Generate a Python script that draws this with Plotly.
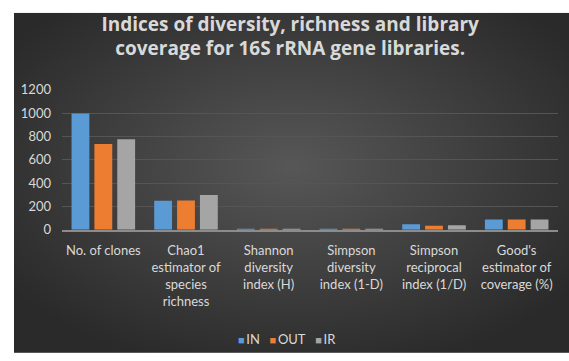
import numpy as np
import plotly.graph_objects as go

categories = [
    "No. of clones",
    "Chao1<br>estimator of<br>species<br>richness",
    "Shannon<br>diversity<br>index (H)",
    "Simpson<br>diversity<br>index (1-D)",
    "Simpson<br>reciprocal<br>index (1/D)",
    "Good's<br>estimator of<br>coverage (%)",
]
series_names = ["IN", "OUT", "IR"]
values_in = [996, 248, 3.6, 0.93, 46, 87]
values_out = [735, 250, 3.4, 0.91, 33, 88]
values_ir = [775, 297, 3.5, 0.92, 38, 88]
colors = ["#5b9bd5", "#ed7d31", "#a5a5a5"]
y_ticks = [0, 200, 400, 600, 800, 1000, 1200]

W, H = 569, 361
TXT = "#d9d9d9"
FONT = "Lato"

fig = go.Figure()

# Decorative radial background gradient (not chart data)
gx = np.linspace(0, 1, 60)
gy = np.linspace(0, 1, 40)
GX, GY = np.meshgrid(gx, gy)
r = np.sqrt(((GX - 0.5) / 0.62) ** 2 + ((GY - 0.55) / 0.62) ** 2)
gz = np.clip(1 - r, 0, 1)
fig.add_trace(go.Heatmap(
    x=gx, y=gy, z=gz, zsmooth="best", showscale=False, hoverinfo="skip",
    colorscale=[[0, "#2a2a2a"], [1, "#575757"]], zmin=0, zmax=1,
    xaxis="x", yaxis="y", showlegend=False,
))

for name, vals, col in zip(series_names, [values_in, values_out, values_ir], colors):
    fig.add_trace(go.Bar(
        x=categories, y=vals, name=name, marker=dict(color=col, line=dict(width=0)),
        xaxis="x2", yaxis="y2", showlegend=False,
    ))

# Compact Excel-style legend as text
legend_text = "\u2003".join(
    f"<span style='color:{c};font-size:11px'>■</span>\u2009{n}" for n, c in zip(series_names, colors)
)

fig.update_layout(
    width=W, height=H,
    margin=dict(l=0, r=0, t=0, b=0),
    paper_bgcolor="white",
    plot_bgcolor="rgba(0,0,0,0)",
    font=dict(family=FONT, color=TXT, size=13),
    barmode="group", bargap=0.17, bargroupgap=0.22,
    showlegend=False,
    annotations=[dict(
        text=legend_text, xref="paper", yref="paper", x=0.505, y=0.04,
        xanchor="center", yanchor="middle", showarrow=False,
        font=dict(family=FONT, size=13, color=TXT),
    )],
    title=dict(
        text="Indices of diversity, richness and library<br>coverage for 16S rRNA gene libraries.",
        x=0.51, xanchor="center", y=0.915, yanchor="middle",
        font=dict(family="Open Sans", size=19, color=TXT, weight="bold"),
    ),
    xaxis=dict(domain=[14 / W, 1], range=[0, 1], visible=False, fixedrange=True),
    yaxis=dict(domain=[0, 1 - 5 / H], range=[0, 1], visible=False, fixedrange=True),
    xaxis2=dict(domain=[62 / W, 558 / W], anchor="y2", showgrid=False,
                showline=True, linecolor="#8c8c8c", linewidth=1.5,
                tickfont=dict(size=13, color=TXT), ticks="", ticklabelstandoff=8),
    yaxis2=dict(domain=[(H - 232) / H, (H - 85.5) / H], anchor="x2", range=[0, 1200],
                tickvals=y_ticks, showgrid=True, gridcolor="#555555", gridwidth=1,
                zeroline=False, showline=False, ticks="", ticklabelstandoff=10,
                tickfont=dict(size=13, color=TXT)),
)

fig.write_html("out.html")
